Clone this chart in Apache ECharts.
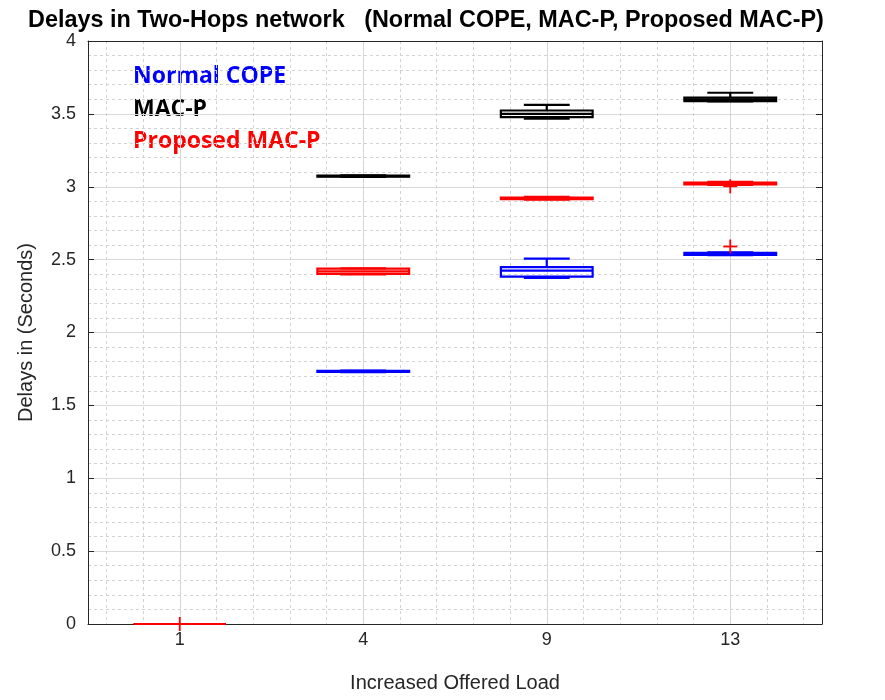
<!DOCTYPE html>
<html><head><meta charset="utf-8">
<script src="https://cdn.jsdelivr.net/npm/echarts@6/dist/echarts.min.js"></script>
<style>html,body{margin:0;padding:0;background:#fff}#c{width:885px;height:700px}</style>
</head><body><div id="c"></div>
<script>
const categories = ['1', '4', '9', '13'];
// each row: [min, Q1, median, Q3, max]
const normalCope = [
  [0, 0, 0, 0, 0],
  [1.728, 1.730, 1.734, 1.737, 1.738],
  [2.375, 2.384, 2.425, 2.448, 2.507],
  [2.530, 2.533, 2.540, 2.547, 2.550]
];
const macP = [
  [0, 0, 0, 0, 0],
  [3.068, 3.070, 3.073, 3.076, 3.078],
  [3.467, 3.478, 3.500, 3.523, 3.562],
  [3.586, 3.588, 3.600, 3.611, 3.645]
];
const proposedMacP = [
  [0, 0, 0, 0, 0],
  [2.398, 2.402, 2.420, 2.438, 2.440],
  [2.912, 2.915, 2.920, 2.925, 2.930],
  [3.012, 3.016, 3.022, 3.028, 3.033]
];
// [categoryIndex, value]
const normalCopeOutliers = [[3, 2.590]];
const macPOutliers = [];
const proposedMacPOutliers = [[0, 0], [3, 3.003]];

const AX = '#262626';
const FONT = 'Liberation Sans';

function boxRenderer(color) {
  return function (params, api) {
    const x = api.value(0);
    const lo = api.coord([x, api.value(1)]);
    const q1 = api.coord([x, api.value(2)]);
    const md = api.coord([x, api.value(3)]);
    const q3 = api.coord([x, api.value(4)]);
    const hi = api.coord([x, api.value(5)]);
    const band = api.size([1, 0])[0];
    const bw = band * 0.5, cw = band * 0.25;
    const cx = md[0];
    const st = {stroke: color, lineWidth: 2.2, fill: 'none'};
    return {type: 'group', children: [
      {type: 'line', shape: {x1: cx, y1: q3[1], x2: cx, y2: hi[1]}, style: st},
      {type: 'line', shape: {x1: cx, y1: q1[1], x2: cx, y2: lo[1]}, style: st},
      {type: 'line', shape: {x1: cx - cw / 2, y1: hi[1], x2: cx + cw / 2, y2: hi[1]}, style: st},
      {type: 'line', shape: {x1: cx - cw / 2, y1: lo[1], x2: cx + cw / 2, y2: lo[1]}, style: st},
      {type: 'rect', shape: {x: cx - bw / 2, y: q3[1], width: bw, height: q1[1] - q3[1]}, style: st},
      {type: 'line', shape: {x1: cx - bw / 2, y1: md[1], x2: cx + bw / 2, y2: md[1]}, style: st}
    ]};
  };
}
function plusRenderer(params, api) {
  const p = api.coord([api.value(0), api.value(1)]);
  const h = 7;
  const st = {stroke: '#ff0000', lineWidth: 1.8};
  return {type: 'group', children: [
    {type: 'line', shape: {x1: p[0] - h, y1: p[1], x2: p[0] + h, y2: p[1]}, style: st},
    {type: 'line', shape: {x1: p[0], y1: p[1] - h, x2: p[0], y2: p[1] + h}, style: st}
  ]};
}
function boxSeries(name, rows, color) {
  return {
    name: name, type: 'custom', xAxisIndex: 0, yAxisIndex: 0,
    renderItem: boxRenderer(color),
    encode: {x: 0, y: [1, 2, 3, 4, 5]},
    data: rows.map((r, i) => [i].concat(r)),
    clip: false, z: 3
  };
}
function outlierSeries(name, pts) {
  return {
    name: name, type: 'custom', xAxisIndex: 0, yAxisIndex: 0,
    renderItem: plusRenderer, encode: {x: 0, y: 1},
    data: pts, clip: false, z: 4
  };
}

const chart = echarts.init(document.getElementById('c'), null, {renderer: 'canvas'});
chart.setOption({
  animation: false,
  backgroundColor: '#fff',
  title: {
    text: 'Delays in Two-Hops network   (Normal COPE, MAC-P, Proposed MAC-P)',
    left: 28, top: 9, padding: 0,
    textStyle: {fontFamily: FONT, fontWeight: 'bold', fontSize: 23.4, color: '#000'}
  },
  grid: {left: 88, right: 63, top: 41, bottom: 76, containLabel: false},
  xAxis: [
    {
      type: 'category', data: categories, boundaryGap: true, position: 'bottom',
      name: 'Increased Offered Load', nameLocation: 'middle', nameGap: 49,
      nameTextStyle: {fontFamily: FONT, fontSize: 20, color: AX},
      axisLine: {lineStyle: {color: AX, width: 1}},
      axisTick: {alignWithLabel: true, inside: true, length: 6, lineStyle: {color: AX}},
      axisLabel: {fontFamily: FONT, fontSize: 18, color: AX, margin: 7},
      splitLine: {show: true, alignWithLabel: true, lineStyle: {color: '#d9d9d9', width: 1}}
    },
    {
      type: 'value', min: 0, max: 40, interval: 2, position: 'bottom',
      axisLine: {show: false}, axisTick: {show: false}, axisLabel: {show: false},
      splitLine: {show: false},
      minorTick: {show: false, splitNumber: 2},
      minorSplitLine: {show: true, lineStyle: {color: '#d2d2d2', width: 1, type: [3, 3]}}
    },
    {
      type: 'category', data: categories, boundaryGap: true, position: 'top',
      axisLine: {show: true, lineStyle: {color: AX, width: 1}},
      axisTick: {alignWithLabel: true, inside: true, length: 6, lineStyle: {color: AX}},
      axisLabel: {show: false}, splitLine: {show: false}
    }
  ],
  yAxis: [
    {
      type: 'value', min: 0, max: 4, interval: 0.5, position: 'left',
      name: 'Delays in (Seconds)', nameLocation: 'middle', nameGap: 52,
      nameTextStyle: {fontFamily: FONT, fontSize: 20, color: AX},
      axisLine: {show: true, lineStyle: {color: AX, width: 1}},
      axisTick: {show: true, inside: true, length: 6, lineStyle: {color: AX}},
      axisLabel: {fontFamily: FONT, fontSize: 18, color: AX, margin: 12},
      splitLine: {show: true, showMinLine: false, showMaxLine: false, lineStyle: {color: '#d9d9d9', width: 1}},
      minorTick: {show: false, splitNumber: 5},
      minorSplitLine: {show: true, lineStyle: {color: '#d2d2d2', width: 1, type: [3, 3]}}
    },
    {
      type: 'value', min: 0, max: 4, interval: 0.5, position: 'right',
      axisLine: {show: true, lineStyle: {color: AX, width: 1}},
      axisTick: {show: true, inside: true, length: 6, lineStyle: {color: AX}},
      axisLabel: {show: false}, splitLine: {show: false}
    }
  ],
  graphic: [
    {type: 'text', left: 133, top: 65, style: {text: 'Normal COPE', fill: '#0000ff', font: 'bold 23px "Open Sans"'}},
    {type: 'text', left: 133, top: 98, style: {text: 'MAC-P', fill: '#000000', font: 'bold 23px "Open Sans"'}},
    {type: 'text', left: 133, top: 130, style: {text: 'Proposed MAC-P', fill: '#ff0000', font: 'bold 23px "Open Sans"'}}
  ],
  series: [
    boxSeries('Normal COPE', normalCope, '#0000ff'),
    boxSeries('MAC-P', macP, '#000000'),
    boxSeries('Proposed MAC-P', proposedMacP, '#ff0000'),
    outlierSeries('Normal COPE outliers', normalCopeOutliers),
    outlierSeries('MAC-P outliers', macPOutliers),
    outlierSeries('Proposed MAC-P outliers', proposedMacPOutliers)
  ]
});
</script>
</body></html>
